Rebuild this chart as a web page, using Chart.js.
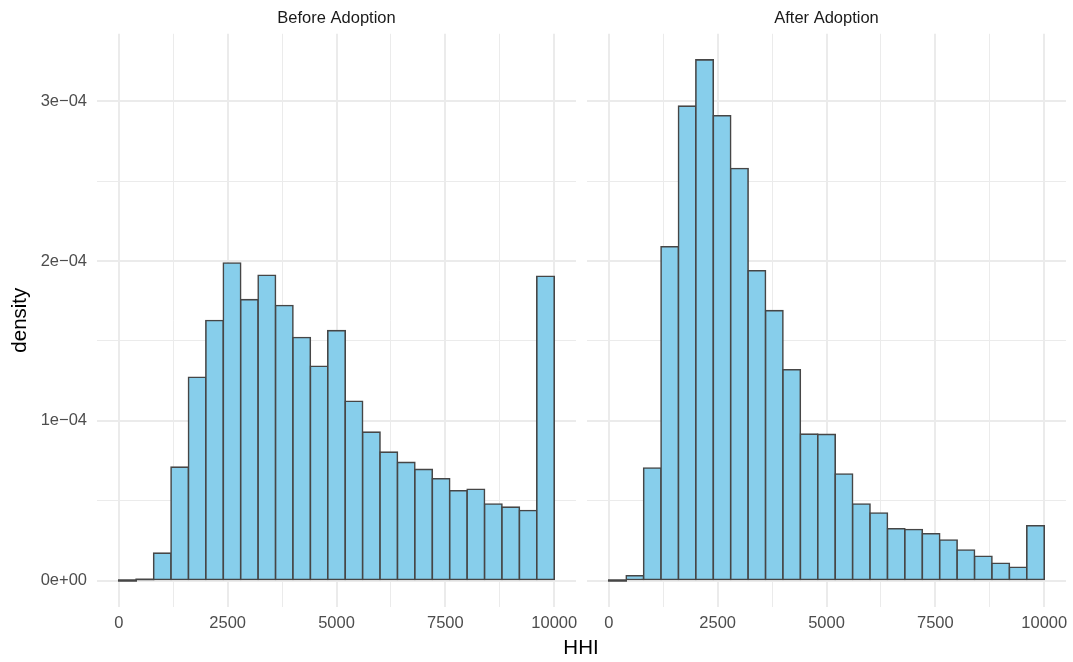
<!DOCTYPE html>
<html>
<head>
<meta charset="utf-8">
<title>HHI density before / after adoption</title>
<script src="https://cdn.jsdelivr.net/npm/chart.js@4.4.1/dist/chart.umd.min.js"></script>
<style>
  html, body { margin: 0; padding: 0; background: #fff; }
  #wrap { position: relative; width: 1073px; height: 662px; overflow: hidden; }
  #before { position: absolute; left: 0; top: 0; }
  #after { position: absolute; left: 587px; top: 0; }
  #xTitle {
    position: absolute; left: 481px; top: 637px; width: 200px;
    text-align: center; font: 20.5px/20.5px 'Liberation Sans', Arial, sans-serif; color: #000;
  }
</style>
</head>
<body>
<div id="wrap">
  <canvas id="before" width="586" height="662"></canvas>
  <canvas id="after" width="486" height="662"></canvas>
  <div id="xTitle">HHI</div>
</div>
<script>
// histogram bins (width 400), centres on the HHI axis
const binCenters = [200, 600, 1000, 1400, 1800, 2200, 2600, 3000, 3400, 3800, 4200, 4600, 5000,
  5400, 5800, 6200, 6600, 7000, 7400, 7800, 8200, 8600, 9000, 9400, 9800];

const beforeDensity = [0, 8e-7, 1.72e-5, 7.1e-5, 1.273e-4, 1.628e-4, 1.988e-4, 1.759e-4, 1.911e-4,
  1.722e-4, 1.522e-4, 1.342e-4, 1.565e-4, 1.123e-4, 9.29e-5, 8.04e-5, 7.4e-5, 6.96e-5, 6.37e-5,
  5.62e-5, 5.72e-5, 4.79e-5, 4.6e-5, 4.39e-5, 1.905e-4];

const afterDensity = [0, 3.0e-6, 7.05e-5, 2.09e-4, 2.97e-4, 3.26e-4, 2.91e-4, 2.58e-4, 1.94e-4,
  1.69e-4, 1.32e-4, 9.17e-5, 9.15e-5, 6.67e-5, 4.79e-5, 4.23e-5, 3.24e-5, 3.2e-5, 2.93e-5,
  2.54e-5, 1.91e-5, 1.52e-5, 1.08e-5, 8.3e-6, 3.43e-5];

const xTickValues = [0, 1250, 2500, 3750, 5000, 6250, 7500, 8750, 10000];
const xTickLabels = ['0', '', '2500', '', '5000', '', '7500', '', '10000'];
const yTickValues = [0, 0.5e-4, 1e-4, 1.5e-4, 2e-4, 2.5e-4, 3e-4];
const yTickLabels = ['0e+00', '', '1e\u221204', '', '2e\u221204', '', '3e\u221204'];

const xMin = -500, xMax = 10500;
const yMin = -0.163e-4, yMax = 3.423e-4;

Chart.defaults.font.family = "'Liberation Sans', Arial, Helvetica, sans-serif";
Chart.defaults.color = '#4d4d4d';

const gridColor = '#ebebeb';
const barFill = '#87ceeb';
const barLine = '#464646';

function gridWidth(labels) {
  return (ctx) => (labels[ctx.index] ? 2 : 1);
}

// bars thinner than the outline itself show only as a dark line
function isSliver(ctx) {
  return ctx.raw && ctx.raw.y < 2e-6;
}

function makePanel(id, stripText, values, showY, padRight) {
  const ctx = document.getElementById(id).getContext('2d');
  return new Chart(ctx, {
    type: 'bar',
    data: {
      datasets: [{
        data: binCenters.map((x, i) => ({ x: x, y: values[i] })),
        backgroundColor: (c) => (isSliver(c) ? barLine : barFill),
        borderColor: barLine,
        borderWidth: (c) => (isSliver(c) ? 0 : 1.6),
        borderSkipped: false,
        inflateAmount: 0.8,
        minBarLength: 0.8,
        barPercentage: 1,
        categoryPercentage: 1
      }]
    },
    options: {
      responsive: false,
      animation: false,
      layout: { padding: { top: 0, right: padRight, bottom: 25.4, left: 0 } },
      plugins: {
        legend: { display: false },
        tooltip: { enabled: false },
        title: {
          display: true,
          text: stripText,
          fullSize: false,
          color: '#1a1a1a',
          font: { size: 16.5, weight: 'normal' },
          padding: { top: 9, bottom: 5 }
        }
      },
      scales: {
        x: {
          type: 'linear',
          min: xMin,
          max: xMax,
          offset: false,
          border: { display: false },
          grid: { offset: false, color: gridColor, lineWidth: gridWidth(xTickLabels), drawTicks: false },
          ticks: {
            padding: 7,
            font: { size: 16.5 },
            color: '#4d4d4d',
            maxRotation: 0,
            autoSkip: false,
            callback: (v, i) => xTickLabels[i]
          },
          afterBuildTicks: (scale) => { scale.ticks = xTickValues.map(v => ({ value: v })); },
          afterFit: (scale) => { scale.height = 30; scale.paddingLeft = 0; scale.paddingRight = 0; }
        },
        y: {
          min: yMin,
          max: yMax,
          border: { display: false },
          grid: { color: gridColor, lineWidth: gridWidth(yTickLabels), drawTicks: false },
          ticks: {
            display: showY,
            padding: 10,
            font: { size: 16.5 },
            color: '#4d4d4d',
            autoSkip: false,
            callback: (v, i) => yTickLabels[i]
          },
          title: {
            display: showY,
            text: 'density',
            color: '#000',
            font: { size: 20.5 },
            padding: { top: 7.8, bottom: 0 }
          },
          afterBuildTicks: (scale) => { scale.ticks = yTickValues.map(v => ({ value: v })); },
          afterFit: (scale) => {
            scale.width = showY ? 97 : 0;
            scale.paddingTop = 0;
            scale.paddingBottom = 0;
          }
        }
      }
    }
  });
}

makePanel('before', 'Before Adoption', beforeDensity, true, 10);
makePanel('after', 'After Adoption', afterDensity, false, 7);
</script>
</body>
</html>
